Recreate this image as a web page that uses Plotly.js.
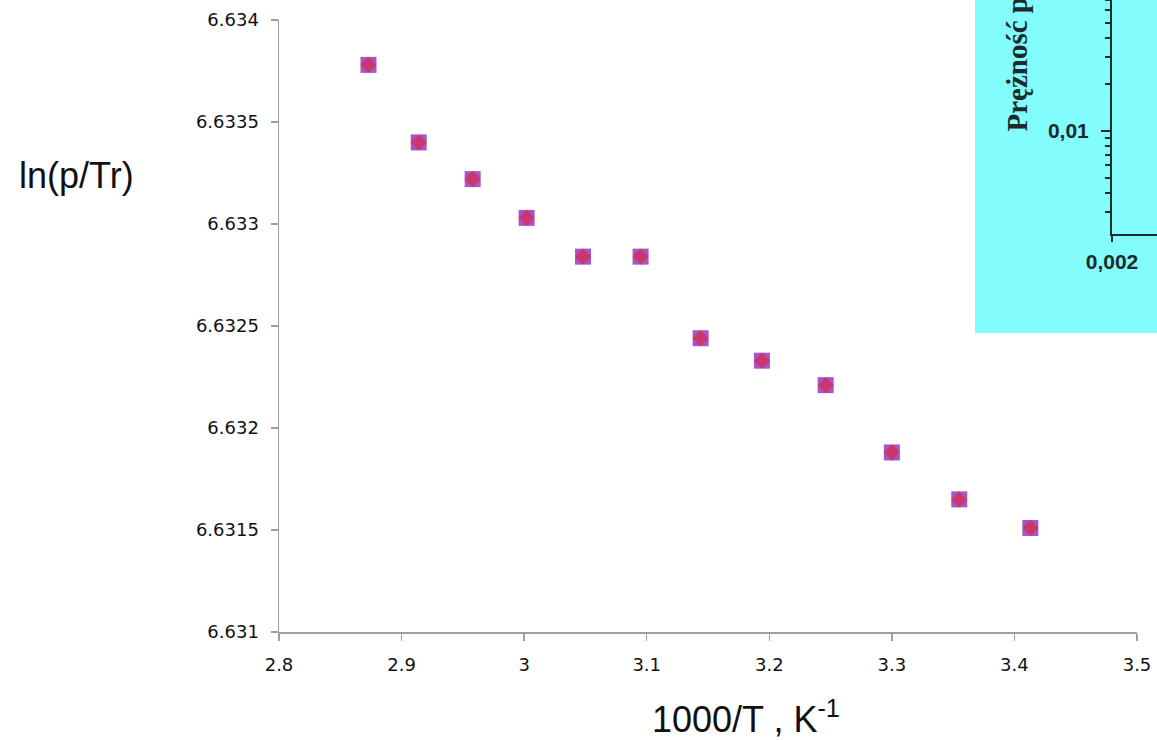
<!DOCTYPE html>
<html>
<head>
<meta charset="utf-8">
<script src="https://cdn.plot.ly/plotly-3.0.1.min.js"></script>
<style>html,body{margin:0;padding:0;background:#fff;}#chart{width:1157px;height:740px;}</style>
</head>
<body>
<div id="chart"></div>
<script>
// Data
const invT = [2.873, 2.914, 2.958, 3.002, 3.048, 3.095, 3.144, 3.194, 3.246, 3.300, 3.355, 3.413];
const lnPTr = [6.63378, 6.63340, 6.63322, 6.63303, 6.63284, 6.63284, 6.63244, 6.63233, 6.63221, 6.63188, 6.63165, 6.63151];

const xTickVals = [2.8, 2.9, 3.0, 3.1, 3.2, 3.3, 3.4, 3.5];
const xTickText = ['2.8', '2.9', '3', '3.1', '3.2', '3.3', '3.4', '3.5'];
const yTickVals = [6.631, 6.6315, 6.632, 6.6325, 6.633, 6.6335, 6.634];
const yTickText = ['6.631', '6.6315', '6.632', '6.6325', '6.633', '6.6335', '6.634'];

// Inset (partially visible chart, top right)
const insetYMajorVals = [0.01];
const insetYMajorText = ['0,01'];
const insetYMinorVals = [0.003, 0.004, 0.005, 0.006, 0.007, 0.008, 0.009, 0.02, 0.03, 0.04, 0.05, 0.06, 0.07];
const insetXTickVals = [0.002];
const insetXTickText = ['0,002'];
const insetYTitle = 'Prężność pary';
const yTitle = 'ln(p/Tr)';
const xTitle = '1000/T , K<sup>-1</sup>';

const W = 1157, H = 740;
const px = v => v / W;
const py = v => 1 - v / H;

const tickFont = {family: 'DejaVu Sans', size: 18, color: '#111'};
const insetFont = {family: 'Liberation Sans', size: 21, color: '#1b2b2b', weight: 'bold'};

const traces = [
  {x: invT, y: lnPTr, type: 'scatter', mode: 'markers', xaxis: 'x', yaxis: 'y',
   marker: {symbol: 'square', size: 16, color: '#a656c8'}, hoverinfo: 'skip'},
  {x: invT, y: lnPTr, type: 'scatter', mode: 'markers', xaxis: 'x', yaxis: 'y',
   marker: {symbol: 'diamond', size: 12.5, color: '#c8386e'}, hoverinfo: 'skip'},
  // empty trace so that the inset's axes are drawn
  {x: [], y: [], type: 'scatter', mode: 'markers', xaxis: 'x2', yaxis: 'y2', hoverinfo: 'skip'}
];

const layout = {
  width: W, height: H,
  margin: {l: 0, r: 0, t: 0, b: 0, pad: 0},
  paper_bgcolor: '#ffffff',
  plot_bgcolor: 'rgba(0,0,0,0)',
  showlegend: false,
  xaxis: {
    domain: [px(279), px(1137)], range: [2.8, 3.5], anchor: 'y',
    tickmode: 'array', tickvals: xTickVals, ticktext: xTickText,
    ticks: 'outside', ticklen: 7, tickwidth: 1.5, tickcolor: '#a0a0a0',
    showline: true, linecolor: '#a0a0a0', linewidth: 1.5,
    showgrid: false, zeroline: false, automargin: false,
    tickfont: tickFont, ticklabelstandoff: 9
  },
  yaxis: {
    domain: [py(632), py(20)], range: [6.631, 6.634], anchor: 'x',
    tickmode: 'array', tickvals: yTickVals, ticktext: yTickText,
    ticks: 'outside', ticklen: 7, tickwidth: 1.5, tickcolor: '#a0a0a0',
    showline: true, linecolor: '#a0a0a0', linewidth: 1.5,
    showgrid: false, zeroline: false, automargin: false,
    tickfont: tickFont, ticklabelstandoff: 8
  },
  xaxis2: {
    domain: [px(1112), 1], range: [0.002, 0.0025], anchor: 'y2',
    tickmode: 'array', tickvals: insetXTickVals, ticktext: insetXTickText,
    ticks: 'outside', ticklen: 6, tickwidth: 2, tickcolor: '#1b2e2e',
    showline: true, linecolor: '#1b2e2e', linewidth: 2,
    showgrid: false, zeroline: false, automargin: false,
    tickfont: insetFont, ticklabelstandoff: 2
  },
  yaxis2: {
    domain: [py(234), 1], type: 'log', range: [-2.6645, -1.1548], anchor: 'x2',
    tickmode: 'array', tickvals: insetYMajorVals, ticktext: insetYMajorText,
    ticks: 'outside', ticklen: 9, tickwidth: 2, tickcolor: '#1b2e2e',
    minor: {tickmode: 'array', tickvals: insetYMinorVals, ticks: 'outside', ticklen: 5, tickwidth: 2, tickcolor: '#1b2e2e', showgrid: false},
    showline: true, linecolor: '#1b2e2e', linewidth: 2,
    showgrid: false, zeroline: false, automargin: false,
    tickfont: insetFont, ticklabelstandoff: 8
  },
  shapes: [
    {type: 'rect', xref: 'paper', yref: 'paper', x0: px(975), x1: 1, y0: py(333), y1: 1,
     fillcolor: '#82fcfc', line: {width: 0}, layer: 'below'}
  ],
  annotations: [
    {text: yTitle, xref: 'paper', yref: 'paper', x: px(76), y: py(175), xanchor: 'center', yanchor: 'middle',
     showarrow: false, font: {family: 'Liberation Sans', size: 36, color: '#111'}},
    {text: xTitle, xref: 'paper', yref: 'paper', x: px(746), y: py(717), xanchor: 'center', yanchor: 'middle',
     showarrow: false, font: {family: 'Liberation Sans', size: 36, color: '#111'}},
    {text: insetYTitle, xref: 'paper', yref: 'paper', x: px(1016), y: py(134), xanchor: 'center', yanchor: 'bottom',
     textangle: -90, showarrow: false, font: {family: 'Liberation Serif', size: 29, color: '#1b2b2b', weight: 'bold'}}
  ]
};

Plotly.newPlot('chart', traces, layout, {displayModeBar: false, staticPlot: true});
</script>
</body>
</html>
